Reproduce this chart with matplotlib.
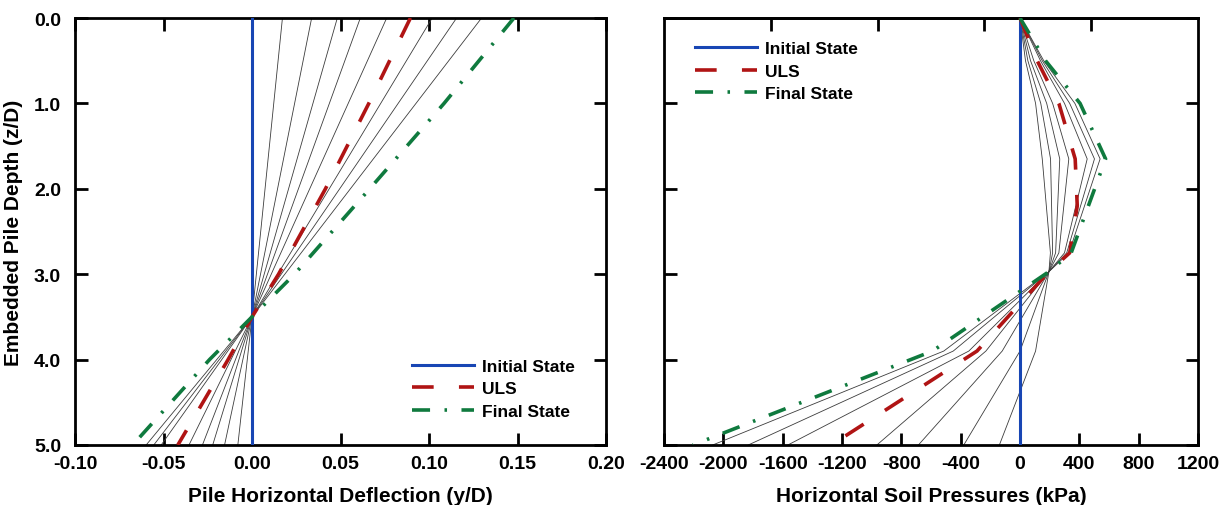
import matplotlib
matplotlib.use("Agg")
import matplotlib.pyplot as plt

plt.rcParams['font.family'] = ['Liberation Sans', 'DejaVu Sans']
plt.rcParams['font.weight'] = 'bold'

# ---------------- Left panel data: pile deflection (y/D) ----------------
depth_defl = [0.0, 1.0, 2.0, 3.0, 3.5, 4.0, 5.0]
final_defl = [0.148, 0.1085, 0.0665, 0.024, 0.0, -0.024, -0.0674]
uls_defl = [0.0895, 0.066, 0.0415, 0.015, 0.0, -0.0135, -0.0419]
depth_defl_steps = [0.0, 3.5, 5.0]
steps_defl_top = [0.0172, 0.0337, 0.0482, 0.0612, 0.0761, 0.1018, 0.1156, 0.1297]
steps_defl_bottom = [-0.008, -0.0155, -0.0222, -0.028, -0.0356, -0.0513, -0.0555, -0.0598]
initial_depth = [0.0, 5.0]
initial_defl = [0.0, 0.0]

# ---------------- Right panel data: soil pressures (kPa) ----------------
depth_press = [0.0, 0.5, 1.0, 1.65, 2.75, 2.97, 3.9, 5.0]
final_press = [0, 172, 405, 577, 345, 195, -590, -2205]
depth_uls = [0.0, 0.5, 1.0, 1.65, 2.2, 2.75, 2.97, 3.9, 5.0]
uls_press = [0, 116, 262, 372, 386, 335, 195, -290, -1272]
steps_press = [
    [0, 37, 105, 150, 205, 195, 105, -139],
    [0, 53, 140, 206, 220, 195, 0, -379],
    [0, 71, 180, 268, 240, 195, -120, -685],
    [0, 93, 220, 329, 262, 195, -230, -965],
    [0, 138, 300, 453, 300, 195, -345, -1565],
    [0, 150, 335, 502, 315, 195, -450, -1832],
    [0, 160, 370, 540, 330, 195, -514, -2072],
]
initial_press = [0, 0]

# ---------------- Tick labels ----------------
defl_ticks = [-0.10, -0.05, 0.00, 0.05, 0.10, 0.15, 0.20]
defl_ticklabels = ['-0.10', '-0.05', '0.00', '0.05', '0.10', '0.15', '0.20']
press_ticks = list(range(-2400, 1201, 400))
press_ticklabels = [str(v) for v in press_ticks]
press_top_ticks = [-1680, -960, -240, 480]
depth_ticks = [0.0, 1.0, 2.0, 3.0, 4.0, 5.0]
depth_ticklabels = ['0.0', '1.0', '2.0', '3.0', '4.0', '5.0']

BLUE = '#1846b4'
RED = '#b01414'
GREEN = '#0f7a3e'
GRAY = '#3c3c3c'

fig = plt.figure(figsize=(12.26, 5.06), dpi=100)
W, H = 1226, 506
axL = fig.add_axes([75 / W, 1 - 446 / H, (606 - 75) / W, (446 - 19) / H])
axR = fig.add_axes([664 / W, 1 - 446 / H, (1198 - 664) / W, (446 - 19) / H])

uls_style = dict(color=RED, lw=2.6, dashes=(6, 7))
fin_style = dict(color=GREEN, lw=2.6, dashes=(5, 4, 0.7, 4))

# Left panel
for t, b in zip(steps_defl_top, steps_defl_bottom):
    axL.plot([t, 0.0, b], depth_defl_steps, color=GRAY, lw=0.6, zorder=2)
axL.plot(initial_defl, initial_depth, color=BLUE, lw=2.2, zorder=3, label='Initial State')
axL.plot(uls_defl, depth_defl, zorder=4, label='ULS', **uls_style)
axL.plot(final_defl, depth_defl, zorder=4, label='Final State', **fin_style)

axL.set_xlim(-0.10, 0.20)
axL.set_ylim(5.0, 0.0)
axL.set_xticks(defl_ticks)
axL.set_xticklabels(defl_ticklabels)
axL.set_yticks(depth_ticks)
axL.set_yticklabels(depth_ticklabels)
axL.set_xlabel('Pile Horizontal Deflection (y/D)', fontsize=15, fontweight='bold', labelpad=10)
axL.set_ylabel('Embedded Pile Depth (z/D)', fontsize=15, fontweight='bold', labelpad=8)

# Right panel
for vals in steps_press:
    axR.plot(vals, depth_press, color=GRAY, lw=0.6, zorder=2)
axR.plot(initial_press, initial_depth, color=BLUE, lw=2.2, zorder=3, label='Initial State')
axR.plot(uls_press, depth_uls, zorder=4, label='ULS', **uls_style)
axR.plot(final_press, depth_press, zorder=4, label='Final State', **fin_style)

axR.set_xlim(-2400, 1200)
axR.set_ylim(5.0, 0.0)
axR.set_xticks(press_ticks)
axR.set_xticklabels(press_ticklabels)
axR.set_yticks(depth_ticks)
axR.set_yticklabels([])
axR.set_xlabel('Horizontal Soil Pressures (kPa)', fontsize=15, fontweight='bold', labelpad=10)

for ax in (axL, axR):
    for s in ax.spines.values():
        s.set_linewidth(2.0)
        s.set_color('black')
    ax.tick_params(axis='both', direction='in', length=9, width=2.0,
                   labelsize=14, top=True, right=True)
    ax.tick_params(axis='x', pad=7)
    ax.tick_params(axis='y', pad=10)
    for lab in ax.get_xticklabels() + ax.get_yticklabels():
        lab.set_fontweight('bold')

secR = axR.secondary_xaxis('top')
secR.set_xticks(press_top_ticks)
secR.set_xticklabels([])
secR.tick_params(direction='in', length=9, width=2.0)
secR.spines['top'].set_linewidth(2.0)
axR.tick_params(axis='x', top=False)

leg_kw = dict(frameon=False, fontsize=12.5, handlelength=3.6, handletextpad=0.45,
              labelspacing=0.42, borderaxespad=0.0)
legL = axL.legend(loc='lower right', bbox_to_anchor=(0.955, 0.045), **leg_kw)
legR = axR.legend(loc='upper left', bbox_to_anchor=(0.045, 0.962), **leg_kw)
for leg in (legL, legR):
    for txt in leg.get_texts():
        txt.set_fontweight('bold')

fig.savefig('out.png', dpi=100)
